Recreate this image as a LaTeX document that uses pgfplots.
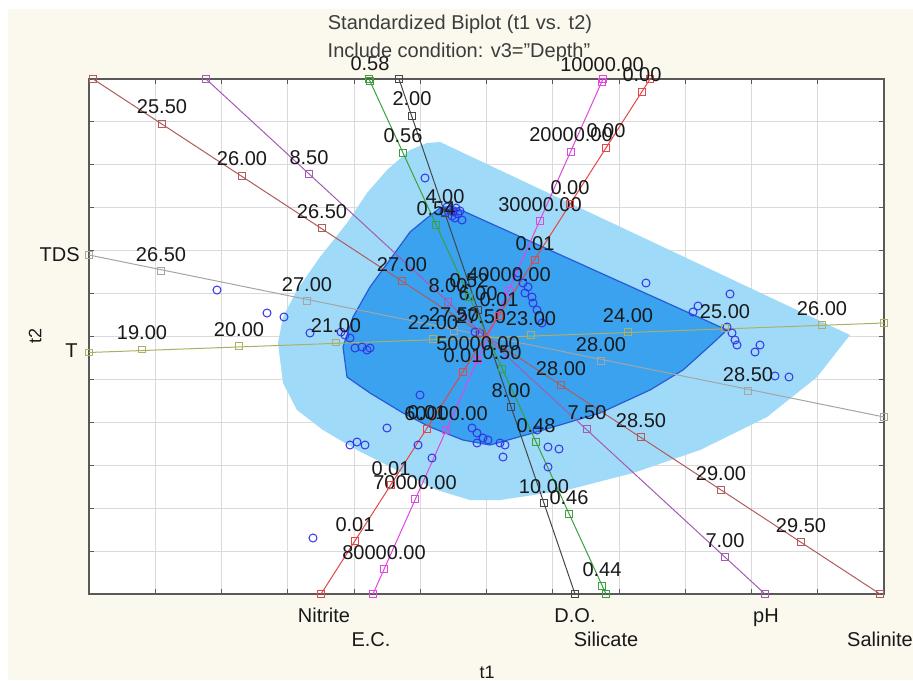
\documentclass[border=0pt]{standalone}
\usepackage{fontspec}
\setmainfont{Liberation Sans}
\usepackage{pgfplots}
\pgfplotsset{compat=1.18}
\definecolor{cream}{RGB}{251,248,238}
\definecolor{hullout}{RGB}{160,218,249}
\definecolor{hullin}{RGB}{58,162,238}
\definecolor{hulledge}{RGB}{40,90,215}
\definecolor{salc}{RGB}{176,92,92}
\definecolor{phc}{RGB}{165,90,180}
\definecolor{tdsc}{RGB}{165,165,165}
\definecolor{tc}{RGB}{175,175,100}
\definecolor{doc}{RGB}{70,70,70}
\definecolor{sic}{RGB}{60,160,60}
\definecolor{ecc}{RGB}{225,70,225}
\definecolor{nic}{RGB}{230,70,70}
\definecolor{ptc}{RGB}{50,50,230}
\definecolor{txt}{RGB}{25,25,25}
\definecolor{ttl}{RGB}{60,60,60}

\pgfplotsset{
  bl/.style={line width=0.5pt, mark=square, mark size=1.6pt, mark options={solid, line width=0.5pt}},
  bm/.style={only marks, mark=square, mark size=1.6pt, mark options={solid, line width=0.5pt},
     nodes near coords, point meta=explicit symbolic},
}

\begin{document}
\begin{tikzpicture}
\path[use as bounding box] (0,0) rectangle (456.5pt,340pt);
\fill[white] (0,0) rectangle (456.5pt,340pt);
\fill[cream] (4pt,0) rectangle (456.5pt,335.5pt);
\begin{axis}[
  at={(44.5pt,43pt)}, anchor=south west,
  scale only axis, width=397.5pt, height=257.5pt,
  xmin=89, xmax=884, ymin=79, ymax=594, y dir=reverse,
  axis background/.style={fill=white},
  xtick={89,155.25,221.5,287.75,354,420.25,486.5,552.75,619,685.25,751.5,817.75,884},
  ytick={79,121.92,164.83,207.75,250.67,293.58,336.5,379.42,422.33,465.25,508.17,551.08,594},
  xticklabels={}, yticklabels={},
  grid=major, major grid style={draw={rgb,255:red,218;green,218;blue,218}, line width=0.5pt},
  tick align=inside, major tick length=2.5pt,
  every tick/.style={black!65, line width=0.5pt},
  axis line style={black!65, line width=0.6pt},
  clip=false,
  every node near coord/.append style={anchor=base, yshift=5pt, inner sep=0pt, text=txt, font=\fontsize{10}{12}\selectfont},
]
% outer hull
\addplot[fill=hullout, draw=none] coordinates {
(440,142) (427,143) (410,150) (387,170) (367,193) (347,223) (320,257) (297,290) (283,317) (278,343)
(283,383) (297,410) (323,430) (357,450) (403,473) (437,490) (470,500) (500,500) (567,490) (633,473)
(700,450) (767,417) (817,377) (850,335) (440,142)};
% inner hull
\addplot[fill=hullin, draw=hulledge, line width=0.6pt] coordinates {
(452,206) (440,208) (427,218) (410,232) (397,250) (370,287) (353,317) (343,347) (347,377) (370,393)
(403,413) (430,427) (463,440) (490,445) (533,433) (600,413) (650,390) (683,370) (713,343) (727,330) (452,206)};

% biplot axes: lines with end markers
\addplot[bl, color=tdsc] coordinates {(89,255) (884,417)};
\addplot[bl, color=tc] coordinates {(89,352.5) (884,323)};
\addplot[bl, color=salc] coordinates {(93,79) (880,594)};
\addplot[bl, color=phc] coordinates {(206,79) (765,594)};
\addplot[bl, color=doc] coordinates {(399,79) (575,594)};
\addplot[bl, color=sic] coordinates {(369,79) (606,594)};
\addplot[bl, color=ecc] coordinates {(603,79) (373,594)};
\addplot[bl, color=nic] coordinates {(650,79) (321,594)};

% scatter of cases
\addplot[only marks, mark=o, mark size=2pt, color=ptc, mark options={line width=0.5pt}] coordinates {
(425,178) (447,207) (450,210) (453,212) (456,208) (458,214) (452,216) (455,218) (462,220) (460,211) (444,212)
(217,290) (267,313) (284,317) (310,333) (341,332) (345,335) (350,338) (355,348) (362,347) (367,350) (370,348)
(518,273) (523,283) (528,287) (525,293) (532,297) (533,303) (537,310) (542,323) (475,332) (480,333)
(646,283) (730,294) (698,306) (693,312) (727,327) (732,333) (735,340) (737,345) (760,345) (755,352) (775,376) (789,377)
(420,395) (387,428) (350,445) (357,442) (365,445) (418,445) (432,458)
(472,428) (477,433) (483,438) (488,440) (477,443) (500,443) (505,445) (503,457) (537,430) (548,447) (559,449) (548,467)
(313,538)};

% calibrated tick markers with labels
\addplot[bm, color=tdsc] table[meta=l] {
x y l
161 271 26.50
307 301 27.00
454 331 27.50
601 361 28.00
748 391 28.50
};
\addplot[bm, color=tc] table[meta=l] {
x y l
142 349.5 19.00
239 346 20.00
336 342.5 21.00
433 339 22.00
531 335 23.00
628 332 24.00
725 328 25.00
822 325 26.00
};
\addplot[bm, color=salc] table[meta=l] {
x y l
162 124 25.50
242 176 26.00
322 228 26.50
402 281 27.00
481 333 27.50
561 385 28.00
641 437 28.50
721 490 29.00
801 542 29.50
};
\addplot[bm, color=phc] table[meta=l] {
x y l
309 174 8.50
448 302 8.00
587 429 7.50
725 557 7.00
};
\addplot[bm, color=doc] table[meta=l] {
x y l
412 116 2.00
445 213 4.00
478 310 6.00
511 407 8.00
544 503 10.00
};
\addplot[bm, color=sic] table[meta=l] {
x y l
370 81 0.58
403 153 0.56
436 225 0.54
469 297 0.52
502 369 0.50
536 442 0.48
569 514 0.46
602 586 0.44
};
\addplot[bm, color=ecc] table[meta=l] {
x y l
602 82 10000.00
571 152 20000.00
540 221 30000.00
509 291 40000.00
478 360 50000.00
446 430 60000.00
415 499 70000.00
384 569 80000.00
};
\addplot[bm, color=nic] table[meta=l] {
x y l
642 92 0.00
606 148 0.00
570 204 0.00
535 260 0.01
499 316 0.01
463 372 0.01
427 429 0.01
391 485 0.01
355 541 0.01
};
\end{axis}
% titles and names
\begin{scope}[every node/.style={inner sep=0pt, font=\fontsize{10}{12}\selectfont, text=ttl}]
\node at (230pt,328pt) {Standardized Biplot (t1 vs. t2)};
\node at (229.5pt,314pt) {Include condition: v3="Depth"};
\node[anchor=base, text=txt] at (162pt,28.9pt) {Nitrite};
\node[anchor=base, text=txt] at (185.5pt,16.9pt) {E.C.};
\node[anchor=base, text=txt] at (287.5pt,28.9pt) {D.O.};
\node[anchor=base, text=txt] at (303pt,16.9pt) {Silicate};
\node[anchor=base, text=txt] at (383pt,28.9pt) {pH};
\node[anchor=base, text=txt] at (440pt,16.9pt) {Salinite};
\node[anchor=base east, text=txt] at (40pt,209.4pt) {TDS};
\node[anchor=base east, text=txt] at (39pt,161.4pt) {T};
\node[anchor=base, font=\fontsize{9}{11}\selectfont, text=txt] at (243.5pt,0.8pt) {t1};
\node[anchor=base, rotate=90, font=\fontsize{9}{11}\selectfont, text=txt] at (20.7pt,172pt) {t2};
\end{scope}
\end{tikzpicture}
\end{document}
